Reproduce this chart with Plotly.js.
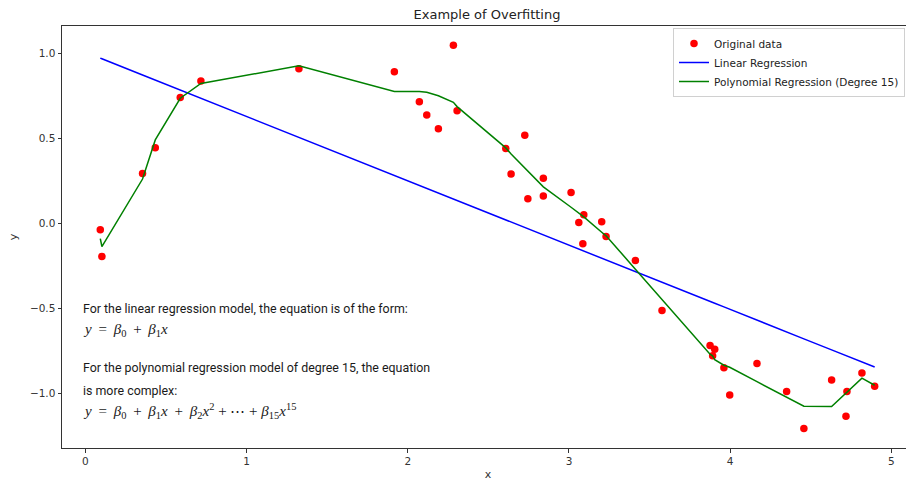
<!DOCTYPE html>
<html>
<head>
<meta charset="utf-8">
<script src="https://cdn.plot.ly/plotly-3.0.1.min.js"></script>
<style>
html, body { margin:0; padding:0; overflow:hidden; background:#fff; }
#chart { width:916px; height:481px; }
</style>
</head>
<body>
<div id="chart"></div>
<script>
// Data
const xData = [0.093, 0.103, 0.355, 0.434, 0.589, 0.717, 1.325, 1.917, 2.072, 2.118,
               2.190, 2.283, 2.306, 2.608, 2.641, 2.726, 2.745, 2.841, 2.841, 3.013,
               3.061, 3.086, 3.092, 3.203, 3.230, 3.412, 3.577, 3.875, 3.891, 3.904,
               3.961, 3.997, 4.166, 4.350, 4.457, 4.629, 4.718, 4.724, 4.817, 4.896];
const yData = [-0.039, -0.195, 0.292, 0.444, 0.739, 0.836, 0.908, 0.891, 0.715, 0.637,
               0.556, 1.047, 0.661, 0.440, 0.290, 0.518, 0.144, 0.265, 0.160, 0.181,
               0.004, -0.121, 0.050, 0.008, -0.078, -0.219, -0.513, -0.719, -0.780, -0.741,
               -0.850, -1.010, -0.825, -0.990, -1.207, -0.922, -1.135, -0.990, -0.881, -0.959];
const yLinear = [0.971, 0.967, 0.872, 0.842, 0.783, 0.735, 0.505, 0.281, 0.222, 0.205,
                 0.178, 0.142, 0.134, 0.019, 0.007, -0.025, -0.032, -0.069, -0.069, -0.134,
                 -0.152, -0.161, -0.164, -0.206, -0.216, -0.285, -0.347, -0.460, -0.466, -0.471,
                 -0.492, -0.506, -0.570, -0.640, -0.680, -0.745, -0.779, -0.781, -0.816, -0.846];
const yPoly = [-0.090, -0.137, 0.260, 0.490, 0.735, 0.822, 0.926, 0.775, 0.775, 0.770,
               0.750, 0.711, 0.686, 0.443, 0.407, 0.325, 0.308, 0.214, 0.214, 0.094,
               0.060, 0.043, 0.037, -0.053, -0.074, -0.270, -0.450, -0.770, -0.780, -0.803,
               -0.835, -0.847, -0.932, -1.020, -1.076, -1.078, -1.000, -0.994, -0.911, -0.953];
const seriesNames = ["Original data", "Linear Regression", "Polynomial Regression (Degree 15)"];
const titleText = "Example of Overfitting";
const xTickVals = [0, 1, 2, 3, 4, 5];
const yTickVals = [-1.0, -0.5, 0.0, 0.5, 1.0];
const S = "\u2009";   // thin space for TeX-like operator spacing
const noteLines = [
  "For the linear regression model, the equation is of the form:",
  "<i>y</i>" + S + " = " + S + "<i>β</i><sub>0</sub>" + S + " + " + S + "<i>β</i><sub>1</sub><i>x</i>",
  "For the polynomial regression model of degree 15, the equation",
  "is more complex:",
  "<i>y</i>" + S + " = " + S + "<i>β</i><sub>0</sub>" + S + " + " + S + "<i>β</i><sub>1</sub><i>x</i>" + S + " + " + S +
  "<i>β</i><sub>2</sub><i>x</i><sup>2</sup> + ⋯ + " +
  "<i>β</i><sub>15</sub><i>x</i><sup>15</sup>"
];

const plotTop = 26, plotBottom = 448, plotLeft = 62;
function py(pix) { return (plotBottom - pix) / (plotBottom - plotTop); }
function px(pix) { return (pix - plotLeft) / (914 - plotLeft); }

const textFont = {family: "Roboto, 'Noto Sans', sans-serif", size: 12.4, color: "#1a1a1a"};
const mathFont = {family: "'Liberation Serif', 'DejaVu Serif', serif", size: 15, color: "#1a1a1a"};
const notePos = [308, 330, 367, 390, 411];

const annotations = noteLines.map((t, i) => ({
  text: t, xref: "paper", yref: "paper", x: px(81), y: py(notePos[i]),
  xanchor: "left", yanchor: "middle", showarrow: false,
  font: (i === 1 || i === 4) ? mathFont : textFont
}));

const traces = [
  {x: xData, y: yData, mode: "markers", type: "scatter", name: seriesNames[0],
   marker: {color: "#ff0000", size: 7.5}},
  {x: xData, y: yLinear, mode: "lines", type: "scatter", name: seriesNames[1],
   line: {color: "#0000ff", width: 1.5}},
  {x: xData, y: yPoly, mode: "lines", type: "scatter", name: seriesNames[2],
   line: {color: "#008000", width: 1.5}}
];

const axisCommon = {
  showgrid: false, zeroline: false, showline: true, mirror: true,
  linecolor: "#333", linewidth: 1, ticks: "outside", ticklen: 3.5, tickwidth: 1,
  tickcolor: "#333", tickfont: {family: "'DejaVu Sans', sans-serif", size: 10.5, color: "#333"}
};

const layout = {
  width: 916, height: 481,
  margin: {l: plotLeft, r: 916 - 914, t: plotTop, b: 481 - plotBottom, pad: 0},
  paper_bgcolor: "#fff", plot_bgcolor: "#fff",
  title: {text: titleText, font: {family: "'DejaVu Sans', sans-serif", size: 13, color: "#222"},
          x: px(487), xref: "paper", xanchor: "center", y: 1 - 14 / 481, yref: "container", yanchor: "middle"},
  xaxis: Object.assign({}, axisCommon, {
    range: [-0.1445, 5.14], tickvals: xTickVals, ticktext: xTickVals.map(String),
    title: {text: "x", font: {family: "'DejaVu Sans', sans-serif", size: 11, color: "#333"}, standoff: 5}
  }),
  yaxis: Object.assign({}, axisCommon, {
    range: [-1.322, 1.160], tickvals: yTickVals, tickformat: ".1f",
    title: {text: "y", font: {family: "'DejaVu Sans', sans-serif", size: 11, color: "#333"}, standoff: 10}
  }),
  showlegend: true,
  legend: {x: px(673), y: py(28), xanchor: "left", yanchor: "top",
           bgcolor: "rgba(255,255,255,0.9)", bordercolor: "#d0d0d0", borderwidth: 1,
           font: {family: "'DejaVu Sans', sans-serif", size: 10.5, color: "#222"},
           tracegroupgap: 0, itemwidth: 30},
  annotations: annotations
};

Plotly.newPlot("chart", traces, layout, {displayModeBar: false, staticPlot: true});
</script>
</body>
</html>
